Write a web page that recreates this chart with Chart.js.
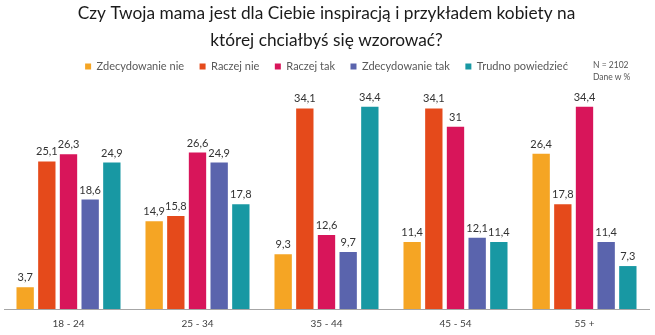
<!DOCTYPE html>
<html lang="pl">
<head>
<meta charset="utf-8">
<script src="https://cdn.jsdelivr.net/npm/chart.js@4"></script>
<style>
  html, body { margin: 0; padding: 0; background: #fff; }
  .wrap { position: relative; width: 655px; height: 335px; }
  .note {
    position: absolute; left: 593px; top: 59px;
    font: 8.5px Lato, sans-serif; color: #555; line-height: 12px;
  }
</style>
</head>
<body>
<div class="wrap">
  <canvas id="chart" width="655" height="335"></canvas>
  <div class="note">N = 2102<br>Dane w %</div>
</div>
<script>
const ageGroups = ['18 - 24', '25 - 34', '35 - 44', '45 - 54', '55 +'];
const answers = ['Zdecydowanie nie', 'Raczej nie', 'Raczej tak', 'Zdecydowanie tak', 'Trudno powiedzieć'];
const colors = ['#F5A524', '#E54A1B', '#D8155A', '#5A64AD', '#1898A3'];

const zdecydowanieNie = [3.7, 14.9, 9.3, 11.4, 26.4];
const raczejNie = [25.1, 15.8, 34.1, 34.1, 17.8];
const raczejTak = [26.3, 26.6, 12.6, 31, 34.4];
const zdecydowanieTak = [18.6, 24.9, 9.7, 12.1, 11.4];
const trudnoPowiedziec = [24.9, 17.8, 34.4, 11.4, 7.3];

const series = [zdecydowanieNie, raczejNie, raczejTak, zdecydowanieTak, trudnoPowiedziec];

// value labels above each bar, Polish decimal comma
const valueLabels = {
  id: 'valueLabels',
  afterDatasetsDraw(chart) {
    const ctx = chart.ctx;
    ctx.save();
    ctx.font = '11px Lato, sans-serif';
    ctx.fillStyle = '#333';
    ctx.textAlign = 'center';
    ctx.textBaseline = 'alphabetic';
    chart.data.datasets.forEach((ds, i) => {
      chart.getDatasetMeta(i).data.forEach((bar, j) => {
        ctx.fillText(String(ds.data[j]).replace('.', ','), bar.x, bar.y - 6);
      });
    });
    ctx.restore();
  },
};

new Chart(document.getElementById('chart'), {
  type: 'bar',
  data: {
    labels: ageGroups,
    datasets: answers.map((label, i) => ({
      label,
      data: series[i],
      backgroundColor: colors[i],
      categoryPercentage: 0.84,
      barPercentage: 0.8,
    })),
  },
  options: {
    responsive: false,
    animation: false,
    layout: { padding: { left: 4, right: 6, top: 0, bottom: 0 } },
    plugins: {
      title: {
        display: true,
        text: ['Czy Twoja mama jest dla Ciebie inspiracją i przykładem kobiety na', 'której chciałbyś się wzorować?'],
        color: '#1a1a1a',
        font: { family: 'Lato, sans-serif', size: 17.3, weight: 'normal', lineHeight: 1.56 },
        padding: { top: 0, bottom: -8.5 },
      },
      legend: {
        position: 'top',
        labels: {
          boxWidth: 6,
          boxHeight: 6,
          padding: 15.5,
          color: '#595959',
          font: { family: 'Lato, sans-serif', size: 11 },
        },
      },
      tooltip: { enabled: false },
    },
    scales: {
      x: {
        grid: { display: false, drawTicks: false },
        border: { display: true, color: '#a6a6a6' },
        ticks: { color: '#404040', padding: 9, font: { family: 'Lato, sans-serif', size: 10 } },
        afterFit(scale) { scale.height = 26; },
      },
      y: {
        display: false,
        min: 0,
        max: 38.6,
      },
    },
  },
  plugins: [valueLabels],
});
</script>
</body>
</html>
